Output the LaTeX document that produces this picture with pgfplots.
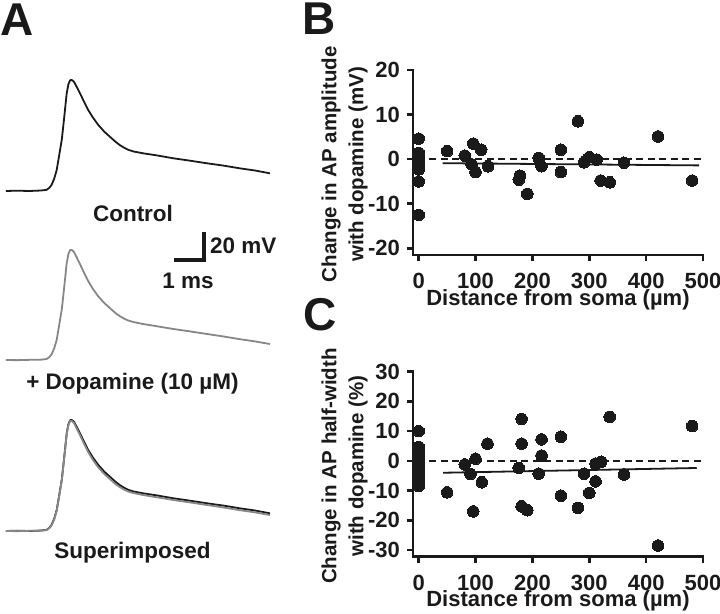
\documentclass[border=0pt]{standalone}
\usepackage{pgfplots}
\pgfplotsset{compat=1.18}
\usepackage{pgfplotstable}
\usepackage{fontspec}
\setmainfont{Liberation Sans}
\definecolor{ink}{RGB}{26,26,26}
\definecolor{tracegray}{RGB}{135,135,135}
\newcommand{\fs}[2]{\fontsize{#1}{#2}\selectfont}

% Panel A traces (time in ms, membrane potential in mV)
\pgfplotstableread{
t v
0.2 -70
0.6 -69.8
1.0 -70
1.4 -69.7
1.6 -69.3
1.7 -68
1.78 -66
1.87 -62
1.955 -56.5
2.04 -47
2.13 -37
2.2 -25
2.25 -16
2.3 -7
2.36 -1
2.42 1.5
2.48 1.6
2.55 0.5
2.65 -3
2.76 -7
2.9 -12.5
3.04 -17.7
3.2 -22.5
3.39 -27.4
3.6 -31.8
3.79 -35
4.0 -38.5
4.14 -40.5
4.3 -42.3
4.42 -43.4
4.6 -44.5
4.94 -45.7
5.4 -47
5.98 -48.9
6.5 -50.3
7.13 -52.1
7.7 -53.6
8.28 -55.4
8.8 -56.8
9.31 -58.6
}\controltrace

\pgfplotstableread{
t v
0.2 -70
0.6 -70.1
1.0 -69.9
1.4 -69.8
1.6 -69.4
1.7 -68.2
1.78 -66.3
1.87 -62.5
1.955 -57
2.04 -47.5
2.13 -37.5
2.2 -25.5
2.25 -16.5
2.3 -7.5
2.36 -1.5
2.42 1.0
2.48 1.0
2.55 -0.3
2.65 -4
2.76 -8.2
2.9 -13.8
3.04 -19
3.2 -24
3.39 -29
3.6 -33.3
3.79 -36.5
4.0 -40
4.14 -41.8
4.3 -43.5
4.42 -44.5
4.6 -45.5
4.94 -46.8
5.4 -48.2
5.98 -50
6.5 -51.4
7.13 -53.2
7.7 -54.8
8.28 -56.6
8.8 -58
9.31 -59.7
}\dopatrace

% Panel B: change in AP amplitude (mV)
\pgfplotstableread{
x y
0 4.6
0 1.4
0 0.5
0 -0.5
0 -1.5
0 -2.3
0 -5.0
0 -12.5
50 1.8
81 0.8
93 -1.2
96 3.5
100 -2.9
110 2.1
122 -1.6
176 -4.6
178 -3.7
191 -7.8
211 0.3
216 -1.6
250 2.1
250 -2.9
280 8.5
291 -0.7
300 0.45
313 -0.1
320 -4.8
336 -5.2
361 -0.8
421 5.1
481 -4.8
}\ampdata

% Panel C: change in AP half-width (%)
\pgfplotstableread{
x y
0 10
0 4.7
0 3.2
0 1.7
0 0.2
0 -1.3
0 -2.8
0 -4.3
0 -5.8
0 -7.3
0 -8.5
50 -10.6
81 -1.2
91 -4.4
96 -17
100 0.7
111 -7.2
121 5.8
176 -2.4
181 14.1
181 5.8
181 -15.3
191 -16.6
211 -4.3
216 7.2
216 1.8
250 8.1
250 -11.7
280 -15.8
291 -4.3
300 -10.8
311 -6.9
311 -0.9
321 -0.3
336 14.8
361 -4.6
421 -28.5
481 11.7
}\hwdata

\pgfplotsset{
  prism/.style={
    anchor=north west,
    scale only axis, width=290pt, height=185pt,
    axis lines=left,
    axis line style={-, line width=2.6pt, ink, line cap=rect},
    xmin=-10, xmax=500,
    xtick={0,100,200,300,400,500},
    xticklabels={0,100,200,300,400,500},
    tick align=outside, major tick length=6pt,
    tick style={line width=2.6pt, ink},
    tick label style={font=\bfseries\fs{22}{22}, text=ink},
    xticklabel style={anchor=base, yshift=-27.5pt, inner sep=0pt},
    yticklabel style={anchor=east, xshift=-7pt, inner sep=0pt},
    clip=false,
    xlabel={Distance from soma (µm)},
    xlabel style={font=\bfseries\fs{22}{22}, text=ink, at={(axis description cs:0.5,0)}, anchor=base, inner sep=0pt, yshift=-50pt},
    ylabel style={font=\bfseries\fs{20.5}{27}, text=ink, align=center, at={(axis description cs:-0.236,0.49)}, anchor=center},
  },
  trace/.style={
    anchor=north west, scale only axis, width=290pt, height=139.5pt,
    xmin=0, xmax=10, ymin=-80, ymax=10, hide axis, clip=false,
  },
}

\begin{document}
\begin{tikzpicture}
\path[use as bounding box] (0pt,0pt) rectangle (720pt,-613pt);

% ---------- Panel A ----------
\begin{axis}[trace, at={(0pt,-67pt)}]
\addplot[ink, line width=1.8pt, line join=round] table {\controltrace};
\end{axis}

\begin{axis}[trace, at={(0pt,-236pt)}]
\addplot[tracegray, line width=1.8pt, line join=round] table {\dopatrace};
% scale bar: 1 ms x 20 mV
\addplot[ink, line width=4pt, line join=miter] coordinates {(6.0,-5.6) (7.04,-5.6) (7.04,12.8)};
\end{axis}

\begin{axis}[trace, at={(0pt,-407pt)}]
\addplot[ink, line width=1.8pt, line join=round] table {\controltrace};
\addplot[tracegray, line width=1.8pt, line join=round] table {\dopatrace};
\end{axis}

\node[font=\bfseries\fs{46}{46}, text=ink] at (17pt,-19.5pt) {A};
\node[font=\bfseries\fs{22.5}{22.5}, text=ink] at (133pt,-213pt) {Control};
\node[font=\bfseries\fs{22.5}{22.5}, text=ink, anchor=west, inner sep=0pt] at (210pt,-246pt) {20 mV};
\node[font=\bfseries\fs{22.5}{22.5}, text=ink] at (188pt,-281pt) {1 ms};
\node[font=\bfseries\fs{22.5}{22.5}, text=ink] at (132.5pt,-384pt) {+ Dopamine (10 µM)};
\node[font=\bfseries\fs{22.5}{22.5}, text=ink] at (132.5pt,-553pt) {Superimposed};

% ---------- Panel B ----------
\begin{axis}[prism, at={(413pt,-70pt)},
  ymin=-21.5, ymax=20,
  ytick={-20,-10,0,10,20},
  yticklabels={{-20},{-10},0,10,20},
  ylabel={Change in AP amplitude\\with dopamine (mV)}]
\addplot[ink, line width=2pt, dash pattern=on 7pt off 4.5pt] coordinates {(19,0) (500,0)};
\addplot[ink, line width=1.8pt] coordinates {(42,-0.9) (493,-1.4)};
\addplot[only marks, mark=*, mark size=5.8pt, mark options={fill=ink, draw=ink, line width=0pt}] table {\ampdata};
\end{axis}
\node[font=\bfseries\fs{46}{46}, text=ink] at (319pt,-19pt) {B};

% ---------- Panel C ----------
\begin{axis}[prism, at={(413pt,-371.7pt)},
  ymin=-32.25, ymax=30,
  ytick={-30,-20,-10,0,10,20,30},
  yticklabels={{-30},{-20},{-10},0,10,20,30},
  ylabel={Change in AP half-width\\with dopamine (\%)}]
\addplot[ink, line width=2pt, dash pattern=on 7pt off 4.5pt] coordinates {(19,0) (500,0)};
\addplot[ink, line width=1.8pt] coordinates {(43,-4.0) (489,-2.4)};
\addplot[only marks, mark=*, mark size=5.8pt, mark options={fill=ink, draw=ink, line width=0pt}] table {\hwdata};
\end{axis}
\node[font=\bfseries\fs{46}{46}, text=ink] at (320pt,-315pt) {C};

\end{tikzpicture}
\end{document}
